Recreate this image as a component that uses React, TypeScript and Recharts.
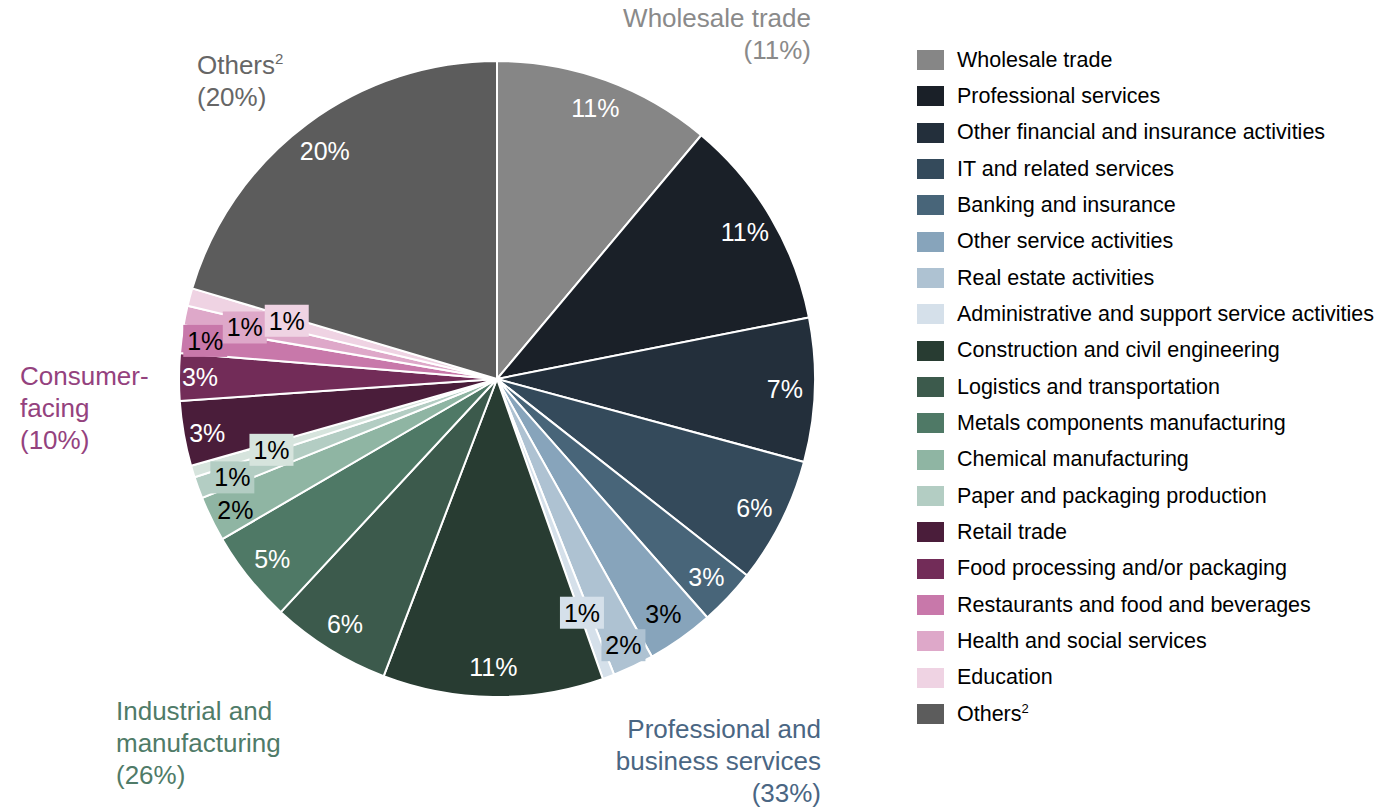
import { PieChart, Pie, Cell, Legend } from 'recharts';

// sectors clockwise from 12 o'clock
const sectors = [
  'Wholesale trade',
  'Professional services',
  'Other financial and insurance activities',
  'IT and related services',
  'Banking and insurance',
  'Other service activities',
  'Real estate activities',
  'Administrative and support service activities',
  'Construction and civil engineering',
  'Logistics and transportation',
  'Metals components manufacturing',
  'Chemical manufacturing',
  'Paper and packaging production',
  'Other manufacturing',
  'Retail trade',
  'Food processing and/or packaging',
  'Restaurants and food and beverages',
  'Health and social services',
  'Education',
  'Others',
];

// share of total, %
const shares = [11.1, 10.8, 7.3, 6.4, 2.9, 3.4, 2.1, 0.6, 11.2, 6.1, 4.7, 2.3, 1.1, 0.6, 3.3, 2.4, 1.4, 1.0, 0.9, 20.4];

// labels as printed on the slices
const printedLabels = ['11%', '11%', '7%', '6%', '3%', '3%', '2%', '1%', '11%', '6%', '5%', '2%', '1%', '1%', '3%', '3%', '1%', '1%', '1%', '20%'];

// the unlabeled sliver is not in the legend
const legendSectors = sectors.filter((s) => s !== 'Other manufacturing');

const COLORS = [
  '#868686', '#1a2028', '#232f3b', '#344a5b', '#486579', '#87a4bb', '#aec2d2', '#d5e0ea',
  '#283c32', '#3c5a4c', '#4f7966', '#8fb5a3', '#b3cdc3', '#d6e4dd',
  '#4a1d3a', '#722c58', '#c878aa', '#dea8c9', '#efd3e3', '#5c5c5c',
];

const DARK = new Set([0, 1, 2, 3, 4, 8, 9, 10, 14, 15, 19]);
const BOXED = new Set([6, 7, 12, 13, 16, 17, 18]);
const LABEL_SHIFT: Record<number, [number, number]> = {
  6: [3, 6],
  7: [-16, -36],
  11: [-3, 4],
  12: [6, 0],
  13: [50, -13],
  14: [-6, 4],
  15: [-9, 0],
  16: [-6, -2],
  17: [30, 6],
  18: [68, 16],
  19: [0, 3],
};

const FONT = '"Liberation Sans", Arial, sans-serif';
const RAD = Math.PI / 180;

const data = sectors.map((name, i) => ({ name, value: shares[i], label: printedLabels[i] }));

const renderLabel = (props: any) => {
  const { cx, cy, midAngle, outerRadius, index } = props;
  const r = outerRadius - 30;
  const [dx, dy] = LABEL_SHIFT[index] || [0, 0];
  const x = cx + r * Math.cos(-midAngle * RAD) + dx;
  const y = cy + r * Math.sin(-midAngle * RAD) + dy;
  const text = printedLabels[index];
  const w = text.length === 2 ? 44 : 58;
  return (
    <g key={`lbl-${index}`}>
      {BOXED.has(index) && (
        <rect x={x - w / 2} y={y - 16} width={w} height={32} fill={COLORS[index]} />
      )}
      <text
        x={x}
        y={y}
        textAnchor="middle"
        dominantBaseline="central"
        fontSize={25}
        fontFamily={FONT}
        fill={DARK.has(index) ? '#ffffff' : '#000000'}
      >
        {text}
      </text>
    </g>
  );
};

const LegendBox = () => (
  <div style={{ fontFamily: FONT, fontSize: 21.5, color: '#000' }}>
    {legendSectors.map((name) => {
      const i = sectors.indexOf(name);
      return (
        <div key={name} style={{ display: 'flex', alignItems: 'center', height: 36.33 }}>
          <div style={{ width: 27, height: 20, background: COLORS[i], marginRight: 13 }} />
          <span style={{ whiteSpace: 'nowrap' }}>
            {name === 'Others' ? <>Others<sup style={{ fontSize: 13, verticalAlign: 8 }}>2</sup></> : name}
          </span>
        </div>
      );
    })}
  </div>
);

const note = (color: string): React.CSSProperties => ({
  position: 'absolute',
  fontFamily: FONT,
  fontSize: 26,
  lineHeight: '32px',
  color,
  whiteSpace: 'nowrap',
});

export default function App() {
  return (
    <div style={{ position: 'absolute', left: 0, top: 0, width: 1396, height: 808, background: '#fff' }}>
      <PieChart width={1396} height={808}>
        <Pie
          data={data}
          dataKey="value"
          nameKey="name"
          cx={492}
          cy={374}
          outerRadius={318}
          startAngle={90}
          endAngle={-270}
          stroke="#ffffff"
          strokeWidth={2}
          label={renderLabel}
          labelLine={false}
          isAnimationActive={false}
        >
          {data.map((d, i) => (
            <Cell key={d.name} fill={COLORS[i]} />
          ))}
        </Pie>
        <Legend
          content={<LegendBox />}
          wrapperStyle={{ position: 'absolute', left: 917, top: 42, width: 470 }}
        />
      </PieChart>

      <div style={{ ...note('#8a8a8a'), right: 1396 - 811, top: 2, textAlign: 'right' }}>
        Wholesale trade<br />(11%)
      </div>
      <div style={{ ...note('#666666'), left: 197, top: 43 }}>
        Others<sup style={{ fontSize: 15, verticalAlign: 10 }}>2</sup><br />(20%)
      </div>
      <div style={{ ...note('#94427e'), left: 20, top: 360 }}>
        Consumer-<br />facing<br />(10%)
      </div>
      <div style={{ ...note('#4f7b68'), left: 116, top: 695 }}>
        Industrial and<br />manufacturing<br />(26%)
      </div>
      <div style={{ ...note('#4a6683'), right: 1396 - 821, top: 713, textAlign: 'right' }}>
        Professional and<br />business services<br />(33%)
      </div>
    </div>
  );
}
